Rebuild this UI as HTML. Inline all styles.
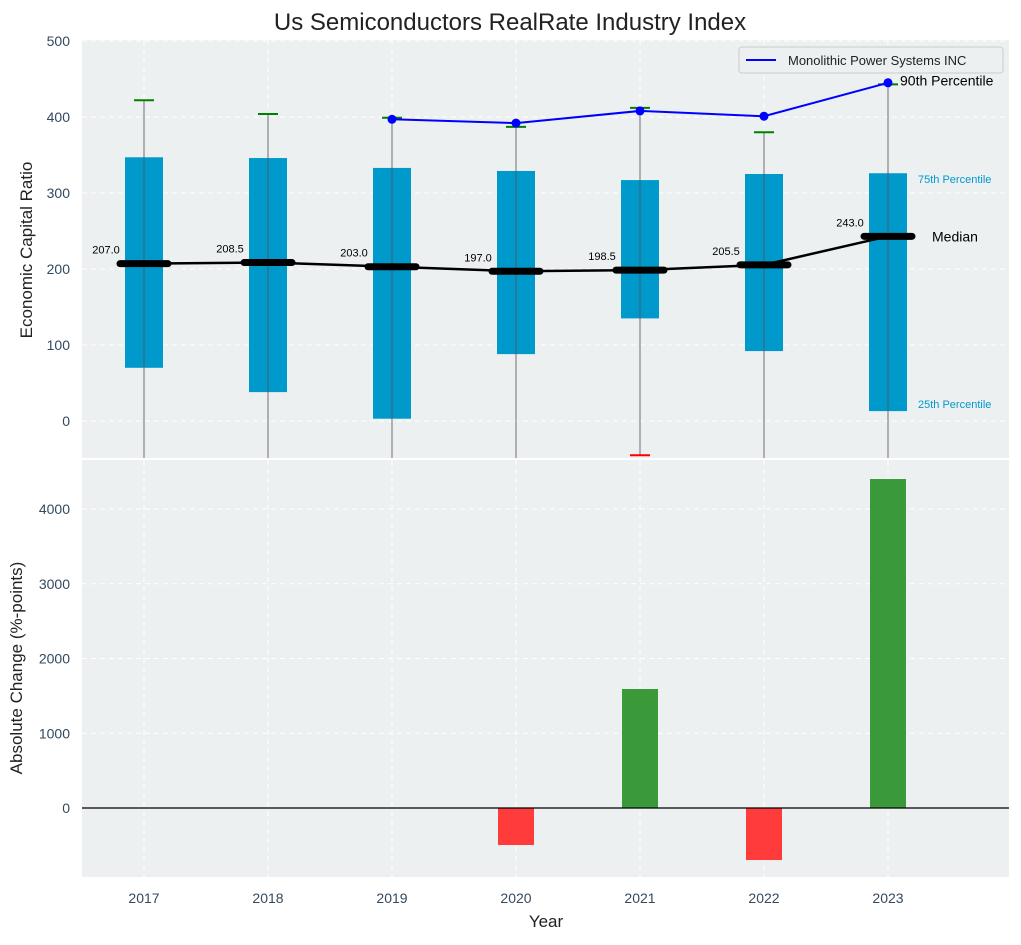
<!DOCTYPE html>
<html><head><meta charset="utf-8"><style>body{margin:0;background:#fff}svg{font-family:"Liberation Sans",sans-serif}</style></head>
<body>
<svg id="c" width="1021" height="940" xmlns="http://www.w3.org/2000/svg"></svg>
<script>
const years=[2017,2018,2019,2020,2021,2022,2023];
const q1=[70,38,3,88,135,92,13];
const q3=[347,346,333,329,317,325,326];
const medians=[207.0,208.5,203.0,197.0,198.5,205.5,243.0];
const whiskerTop=[422,404,399,387,412,380,443];
const whiskerLow=[-100,-100,-100,-100,-45,-100,-100];
const companyYears=[2019,2020,2021,2022,2023];
const companyVals=[397,392,408,401,445];
const changeVals=[0,0,0,-495,1592,-696,4401];
const topTicks=[0,100,200,300,400,500];
const botTicks=[0,1000,2000,3000,4000];
const NS='http://www.w3.org/2000/svg';
const svg=document.getElementById('c');
function el(t,a,p){const e=document.createElementNS(NS,t);for(const k in a)e.setAttribute(k,a[k]);(p||svg).appendChild(e);return e;}
const L=82,R=1009;
const x=v=>144+(v-2017)*124;
const yT=v=>421-0.76*v;
const yB=v=>808-0.07475*v;
let t=el('text',{x:510,y:30,'text-anchor':'middle','font-size':24,fill:'#222'});t.textContent='Us Semiconductors RealRate Industry Index';

let p1=el('rect',{x:L,y:40,width:R-L,height:418,fill:'#ecf0f1'});

let p2=el('rect',{x:L,y:460,width:R-L,height:417,fill:'#ecf0f1'});

years.forEach(v=>{el('line',{x1:x(v),x2:x(v),y1:40,y2:458,stroke:'#fff','stroke-dasharray':'5,4'});el('line',{x1:x(v),x2:x(v),y1:460,y2:877,stroke:'#fff','stroke-dasharray':'5,4'});});
topTicks.forEach(v=>{el('line',{x1:L,x2:R,y1:yT(v),y2:yT(v),stroke:'#fff','stroke-dasharray':'5,4'});
 let k=el('text',{x:70,y:yT(v)+5,'text-anchor':'end','font-size':14,fill:'#34495e'});k.textContent=v;
 });
botTicks.forEach(v=>{el('line',{x1:L,x2:R,y1:yB(v),y2:yB(v),stroke:'#fff','stroke-dasharray':'5,4'});
 let k=el('text',{x:70,y:yB(v)+5,'text-anchor':'end','font-size':14,fill:'#34495e'});k.textContent=v;
 });
const cp=el('clipPath',{id:'ct'});el('rect',{x:L,y:40,width:R-L,height:418},cp);
const gT=el('g',{'clip-path':'url(#ct)'});
years.forEach((yr,i)=>{
 let b=el('rect',{x:x(yr)-19,y:yT(q3[i]),width:38,height:yT(q1[i])-yT(q3[i]),fill:'#0099cc'},gT);
 
 el('line',{x1:x(yr),x2:x(yr),y1:yT(whiskerTop[i]),y2:yT(whiskerLow[i]),stroke:'#555','stroke-opacity':0.7,'stroke-width':1.2},gT);
 el('line',{x1:x(yr)-10,x2:x(yr)+10,y1:yT(whiskerTop[i]),y2:yT(whiskerTop[i]),stroke:'green','stroke-width':2},gT);
 if(whiskerLow[i]>-48)el('line',{x1:x(yr)-10,x2:x(yr)+10,y1:yT(whiskerLow[i]),y2:yT(whiskerLow[i]),stroke:'red','stroke-width':2},gT);
});
let md=el('polyline',{points:years.map((yr,i)=>x(yr)+','+yT(medians[i])).join(' '),fill:'none',stroke:'#000','stroke-width':2.5},gT);

years.forEach((yr,i)=>{
 let m=el('line',{x1:x(yr)-24,x2:x(yr)+24,y1:yT(medians[i]),y2:yT(medians[i]),stroke:'#000','stroke-width':7,'stroke-linecap':'round'},gT);
 
 let l=el('text',{x:x(yr)-38,y:yT(medians[i])-10,'text-anchor':'middle','font-size':11,fill:'#000'});l.textContent=medians[i].toFixed(1);
 
});
let cl=el('polyline',{points:companyYears.map((yr,i)=>x(yr)+','+yT(companyVals[i])).join(' '),fill:'none',stroke:'blue','stroke-width':2},gT);

companyYears.forEach((yr,i)=>{let c=el('circle',{cx:x(yr),cy:yT(companyVals[i]),r:4.5,fill:'blue'},gT);
 });
const last=years.length-1;
[[x(years[last])+12,yT(whiskerTop[last])+1,'90th Percentile',14,'#000'],[x(years[last])+30,yT(q3[last])+10,'75th Percentile',11,'#0099cc'],[x(years[last])+30,yT(q1[last])-3,'25th Percentile',11,'#0099cc'],[x(years[last])+44,yT(medians[last])+5,'Median',14,'#000']].forEach(a=>{
 let k=el('text',{x:a[0],y:a[1],'font-size':a[3],fill:a[4]},gT);k.textContent=a[2];
 });
const lg=el('g',{});
el('rect',{x:739,y:47,width:264,height:26,rx:3,fill:'#ecf0f1',stroke:'#ccc'},lg);
el('line',{x1:746,x2:776,y1:60,y2:60,stroke:'blue','stroke-width':2},lg);
let lt=el('text',{x:788,y:65,'font-size':13,fill:'#222'},lg);lt.textContent='Monolithic Power Systems INC';
years.forEach((yr,i)=>{if(!changeVals[i])return;
 const v=changeVals[i];
 let b=el('rect',{x:x(yr)-18,y:Math.min(yB(v),yB(0)),width:36,height:Math.abs(yB(v)-yB(0)),fill:v>0?'#3a9a3a':'#ff3b3b'});
 });
el('line',{x1:L,x2:R,y1:yB(0),y2:yB(0),stroke:'#000','stroke-width':1.2});
years.forEach(yr=>{let k=el('text',{x:x(yr),y:903,'text-anchor':'middle','font-size':14,fill:'#34495e'});k.textContent=yr;
 });
let xt=el('text',{x:546,y:927,'text-anchor':'middle','font-size':17,fill:'#222'});xt.textContent='Year';

let y1=el('text',{x:32,y:250,'text-anchor':'middle','font-size':17,fill:'#222',transform:'rotate(-90 32 250)'});y1.textContent='Economic Capital Ratio';

let y2=el('text',{x:22,y:668,'text-anchor':'middle','font-size':17,fill:'#222',transform:'rotate(-90 22 668)'});y2.textContent='Absolute Change (%-points)';

</script>
</body></html>
